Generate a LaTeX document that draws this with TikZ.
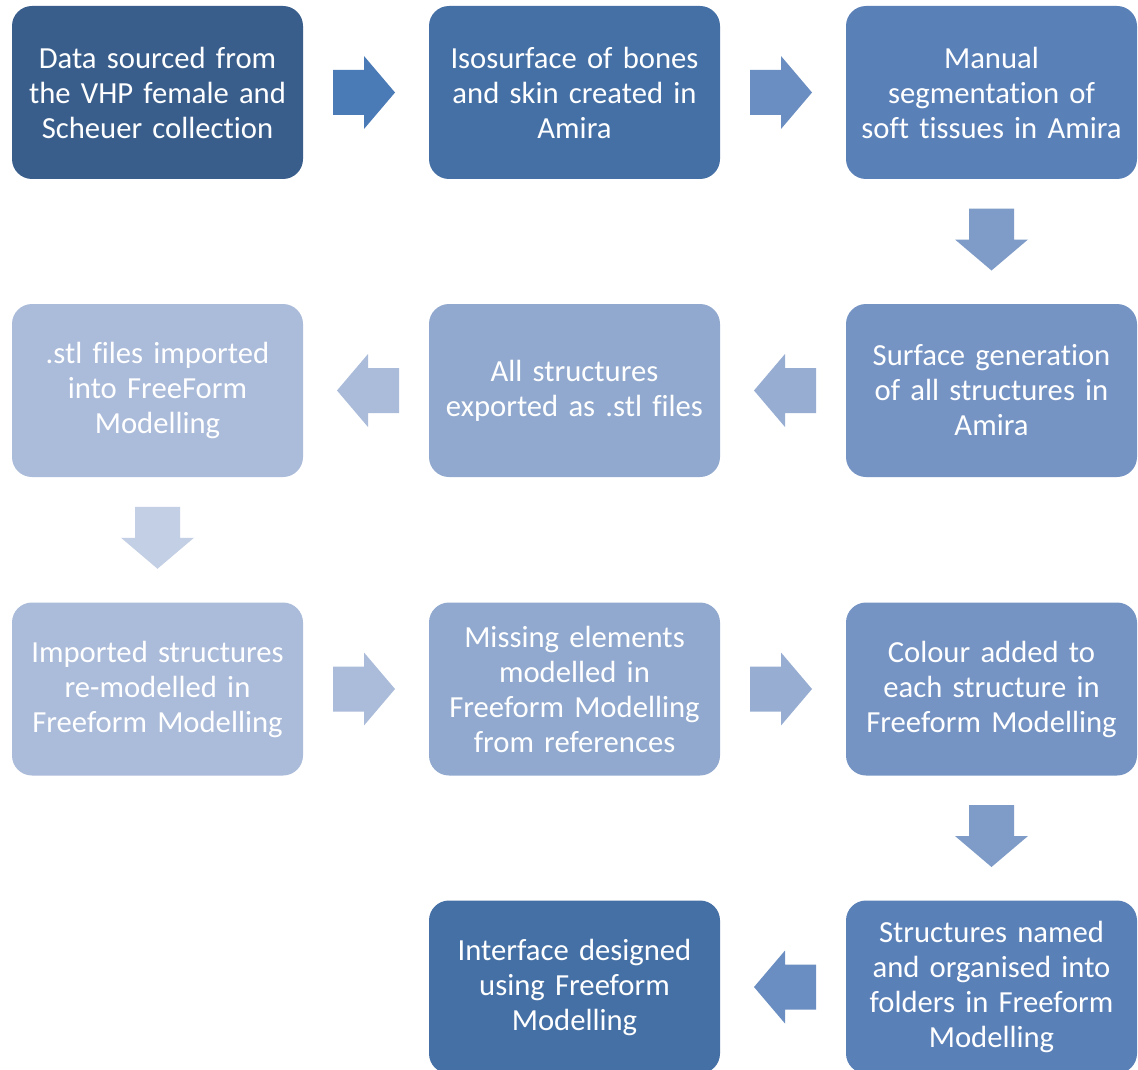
\documentclass[tikz,border=0pt]{standalone}
\usepackage{fontspec}
\setmainfont{Carlito}[Ligatures=NoCommon]
\usetikzlibrary{calc}

\definecolor{stageA}{HTML}{3A5E8C}
\definecolor{stageB}{HTML}{4570A5}
\definecolor{stageC}{HTML}{5A80B8}
\definecolor{stageD}{HTML}{7594C4}
\definecolor{stageE}{HTML}{91A9CE}
\definecolor{stageF}{HTML}{ABBBDA}
\definecolor{arrA}{HTML}{4A7BB7}
\definecolor{arrB}{HTML}{6A8EC2}
\definecolor{arrC}{HTML}{7F9CC8}
\definecolor{arrD}{HTML}{97ADD2}
\definecolor{arrE}{HTML}{ABBBDA}
\definecolor{arrF}{HTML}{C3CFE4}

\tikzset{
	blockarr/.pic={
		\fill[pic actions] (-31,-22.5) -- (0,-22.5) -- (0,-36.5) -- (31,0)
			-- (0,36.5) -- (0,22.5) -- (-31,22.5) -- cycle;
	}
}

\begin{document}
\begin{tikzpicture}[x=0.75pt,y=-0.75pt,
	stage/.style={rounded corners=15pt, minimum width=218.25pt, minimum height=129.75pt,
		text width=214pt, align=center, inner sep=0pt, text=white,
		font=\fontsize{23}{26.25}\selectfont}]
	\useasboundingbox[fill=white] (0,0) rectangle (1138,1070);

	% row 1
	\node[stage, fill=stageA] (data) at (157.5,92.5) {Data sourced from\\the VHP female and\\Scheuer collection};
	\node[stage, fill=stageB] (iso) at (574.5,92.5) {Isosurface of bones\\and skin created in\\Amira};
	\node[stage, fill=stageC] (seg) at (991.5,92.5) {Manual\\segmentation of\\soft tissues in Amira};

	% row 2
	\node[stage, fill=stageD] (surf) at (991.5,390.5) {Surface generation\\of all structures in\\Amira};
	\node[stage, fill=stageE] (export) at (574.5,390.5) {All structures\\exported as .stl files};
	\node[stage, fill=stageF] (import) at (157.5,390.5) {.stl files imported\\into FreeForm\\Modelling};

	% row 3
	\node[stage, fill=stageF] (remod) at (157.5,689) {Imported structures\\re-modelled in\\Freeform Modelling};
	\node[stage, fill=stageE] (missing) at (574.5,689) {Missing elements\\modelled in\\Freeform Modelling\\from references};
	\node[stage, fill=stageD] (colour) at (991.5,689) {Colour added to\\each structure in\\Freeform Modelling};

	% row 4
	\node[stage, fill=stageC] (named) at (991.5,987) {Structures named\\and organised into\\folders in Freeform\\Modelling};
	\node[stage, fill=stageB] (iface) at (574.5,987) {Interface designed\\using Freeform\\Modelling};

	% block arrows
	\pic[fill=arrA] at ($(data.east)!0.5!(iso.west)+(-2,0)$) {blockarr};
	\pic[fill=arrB] at ($(iso.east)!0.5!(seg.west)+(-2,0)$) {blockarr};
	\pic[fill=arrC, rotate=-90] at ($(seg.south)!0.5!(surf.north)+(0,-2)$) {blockarr};
	\pic[fill=arrD, rotate=180] at ($(surf.west)!0.5!(export.east)+(2,0)$) {blockarr};
	\pic[fill=arrE, rotate=180] at ($(export.west)!0.5!(import.east)+(2,0)$) {blockarr};
	\pic[fill=arrF, rotate=-90] at ($(import.south)!0.5!(remod.north)+(0,-2)$) {blockarr};
	\pic[fill=arrE] at ($(remod.east)!0.5!(missing.west)+(-2,0)$) {blockarr};
	\pic[fill=arrD] at ($(missing.east)!0.5!(colour.west)+(-2,0)$) {blockarr};
	\pic[fill=arrC, rotate=-90] at ($(colour.south)!0.5!(named.north)+(0,-2)$) {blockarr};
	\pic[fill=arrB, rotate=180] at ($(named.west)!0.5!(iface.east)+(2,0)$) {blockarr};
\end{tikzpicture}
\end{document}
